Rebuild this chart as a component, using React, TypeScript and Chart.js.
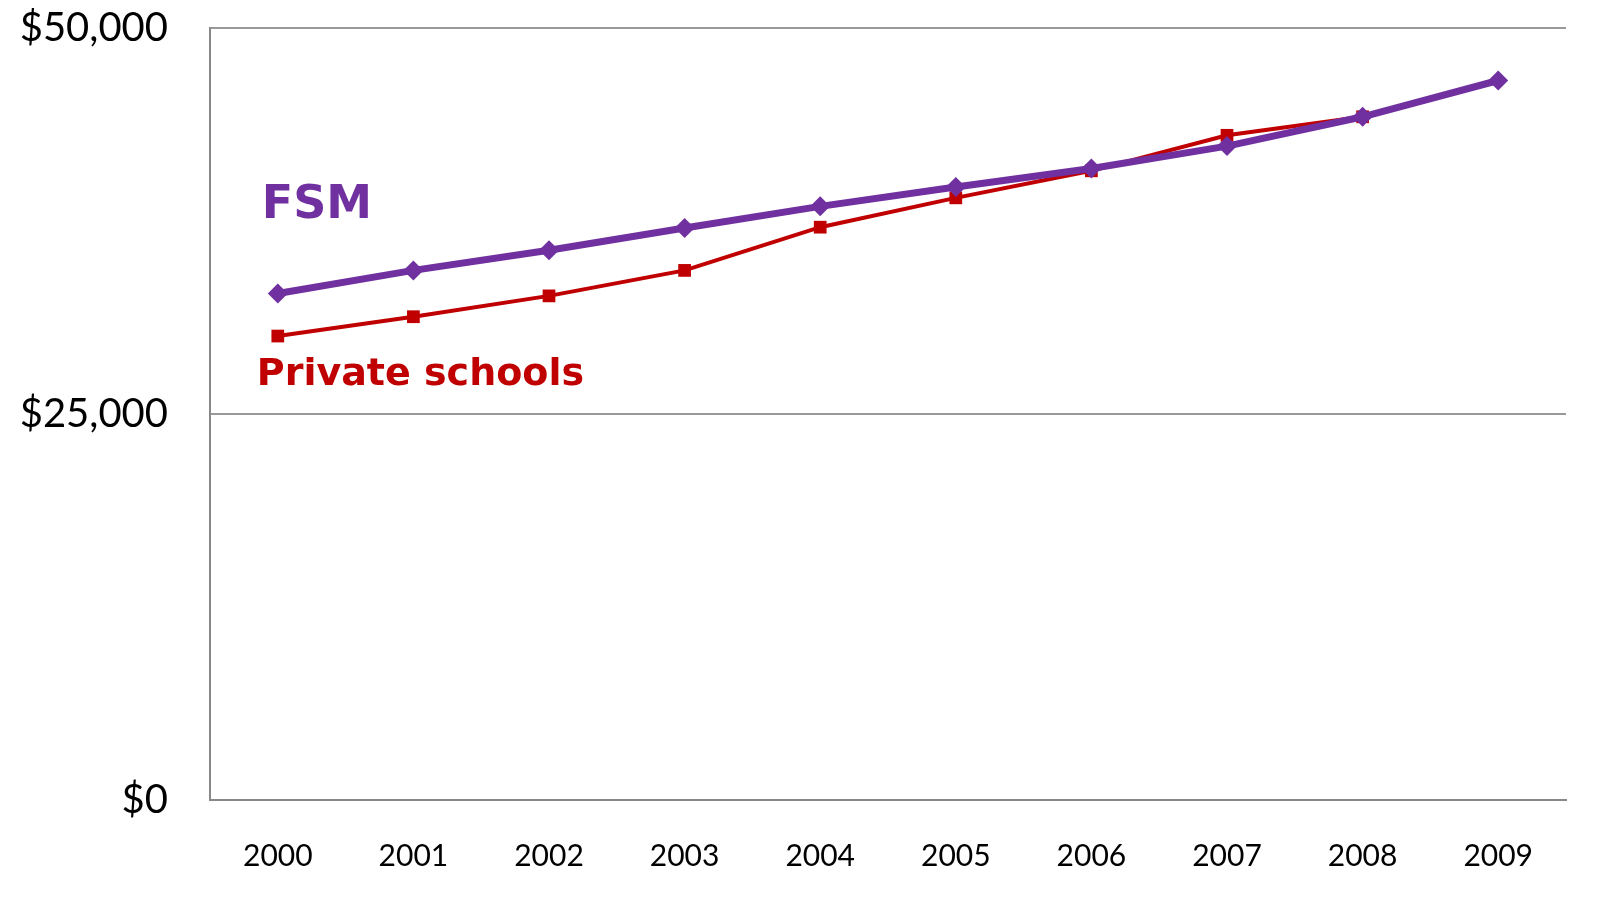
import React, { useEffect, useRef } from 'react';
import Chart from 'chart.js/auto';

const years = ['2000', '2001', '2002', '2003', '2004', '2005', '2006', '2007', '2008', '2009'];
const fsm = [32800, 34300, 35600, 37050, 38450, 39700, 40900, 42350, 44250, 46600];
const privateSchools = [30050, 31300, 32650, 34300, 37100, 39000, 40750, 43050, 44250, null];
const yTicks = [0, 25000, 50000];

const labelPlugin = {
  id: 'seriesLabels',
  afterDatasetsDraw(chart: any) {
    const { ctx, scales } = chart;
    ctx.save();
    ctx.font = 'bold 46px "DejaVu Sans"';
    ctx.textBaseline = 'middle';
    ctx.fillStyle = '#7030A0';
    ctx.fillText('FSM', scales.x.getPixelForValue(0) - 16, scales.y.getPixelForValue(38500));
    ctx.font = 'bold 38px "DejaVu Sans"';
    ctx.fillStyle = '#C00000';
    ctx.fillText('Private schools', scales.x.getPixelForValue(0) - 21, scales.y.getPixelForValue(27500));
    ctx.restore();
  },
};

const App: React.FC = () => {
  const ref = useRef<HTMLCanvasElement | null>(null);

  useEffect(() => {
    if (!ref.current) return;
    const chart = new Chart(ref.current, {
      type: 'line',
      data: {
        labels: years,
        datasets: [
          {
            label: 'FSM',
            data: fsm,
            borderColor: '#7030A0',
            backgroundColor: '#7030A0',
            borderWidth: 7,
            pointStyle: 'rectRot',
            pointRadius: 10,
            pointBorderWidth: 0,
          },
          {
            label: 'Private schools',
            data: privateSchools,
            borderColor: '#C00000',
            backgroundColor: '#C00000',
            borderWidth: 4,
            pointStyle: 'rect',
            pointRadius: 9,
            pointBorderWidth: 0,
          },
        ],
      },
      options: {
        animation: false,
        responsive: false,
        layout: { padding: { top: 20, right: 45 } },
        plugins: { legend: { display: false }, tooltip: { enabled: false } },
        scales: {
          x: {
            offset: true,
            grid: { display: false, drawTicks: false },
            border: { color: '#888', width: 2 },
            ticks: { color: '#000', font: { family: 'Lato', size: 30 }, padding: 38 },
            afterFit: (s: any) => { s.height = 98; s.paddingLeft = 0; s.paddingRight = 0; },
          },
          y: {
            min: 0,
            max: 50000,
            afterBuildTicks: (s: any) => { s.ticks = yTicks.map((v) => ({ value: v })); },
            grid: { color: '#999', lineWidth: 2, drawTicks: false },
            border: { color: '#888', width: 2 },
            ticks: {
              color: '#000',
              font: { family: 'Lato', size: 40 },
              padding: 42,
              callback: (v: any) => '$' + Number(v).toLocaleString('en-US'),
            },
            afterFit: (s: any) => { s.width = 202; s.paddingTop = 0; s.paddingBottom = 0; },
          },
        },
      },
      plugins: [labelPlugin],
    });
    return () => chart.destroy();
  }, []);

  return <canvas ref={ref} width={1603} height={890} style={{ display: 'block' }} />;
};

export default App;
